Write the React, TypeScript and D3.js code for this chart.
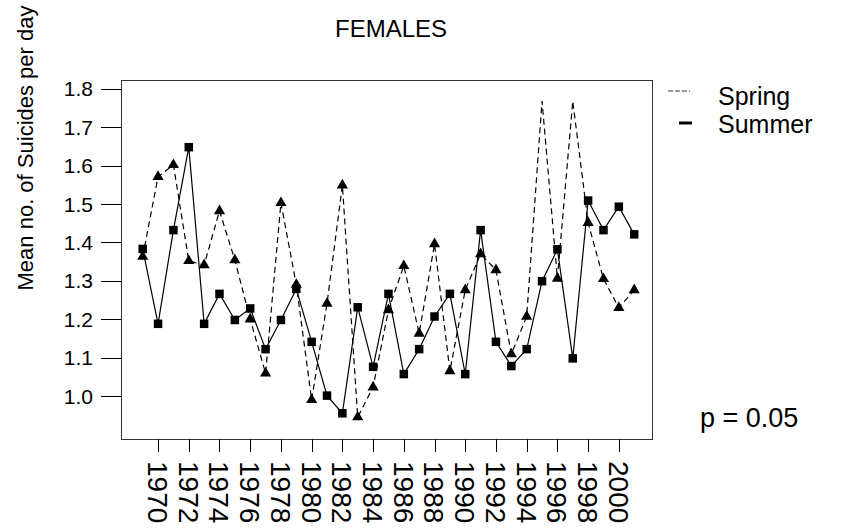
import React from "react";
import * as d3 from "d3";

const years: number[] = d3.range(1969, 2002);
const spring: number[] = [
  1.363, 1.571, 1.602, 1.352, 1.341, 1.482, 1.354, 1.2, 1.059, 1.503, 1.29,
  0.99, 1.241, 1.549, 0.945, 1.023, 1.224, 1.339, 1.163, 1.396, 1.065, 1.276,
  1.37, 1.328, 1.109, 1.207, 1.768, 1.306, 1.768, 1.451, 1.305, 1.23, 1.276,
];
const summer: number[] = [
  1.383, 1.188, 1.432, 1.648, 1.188, 1.266, 1.198, 1.228, 1.122, 1.198, 1.279,
  1.141, 1.001, 0.955, 1.231, 1.076, 1.266, 1.057, 1.122, 1.207, 1.266, 1.057,
  1.432, 1.141, 1.078, 1.122, 1.299, 1.382, 1.098, 1.509, 1.432, 1.493, 1.421,
];
// spring years drawn without a marker in the original
const springNoMarker: number[] = [1995, 1997];
const yTicks: number[] = [1.0, 1.1, 1.2, 1.3, 1.4, 1.5, 1.6, 1.7, 1.8];
const xTicks: number[] = d3.range(1970, 2001, 2);
const legendLabels: string[] = ["Spring", "Summer"];

const FONT = "'Liberation Sans', Arial, Helvetica, sans-serif";

export default function App() {
  const W = 851, H = 529;
  const box = { left: 121, right: 652, top: 80, bottom: 439 };
  const x = d3.scaleLinear().domain([1969, 2001]).range([142.7, 634.2]);
  const y = d3.scaleLinear().domain([1.0, 1.8]).range([396, 88.8]);

  const line = d3
    .line<number>()
    .x((_, i) => x(years[i]))
    .y((d) => y(d));

  const tri = d3.symbol(d3.symbolTriangle, 54)();
  const sq = 8.5;

  return (
    <svg
      width={W}
      height={H}
      style={{ position: "absolute", left: 0, top: 0, background: "#fff" }}
      fontFamily={FONT}
    >
      <rect width={W} height={H} fill="#fff" />
      <text x={391} y={37} fontSize={24} textAnchor="middle" fill="#000">
        FEMALES
      </text>
      <text
        transform={`translate(33,148) rotate(-90)`}
        fontSize={22}
        textAnchor="middle"
        fill="#000"
      >
        Mean no. of Suicides per day
      </text>

      {/* box */}
      <rect
        x={box.left + 0.5}
        y={box.top + 0.5}
        width={box.right - box.left}
        height={box.bottom - box.top}
        fill="none"
        stroke="#333"
        strokeWidth={1}
      />

      {/* y axis */}
      {yTicks.map((t) => (
        <g key={t}>
          <line
            x1={101}
            x2={box.left}
            y1={Math.round(y(t)) + 0.5}
            y2={Math.round(y(t)) + 0.5}
            stroke="#000"
          />
          <text
            x={93}
            y={y(t)}
            dy="0.36em"
            fontSize={21}
            textAnchor="end"
            fill="#000"
          >
            {t.toFixed(1)}
          </text>
        </g>
      ))}

      {/* x axis */}
      {xTicks.map((t) => (
        <g key={t}>
          <line
            x1={Math.round(x(t)) + 0.5}
            x2={Math.round(x(t)) + 0.5}
            y1={box.bottom}
            y2={452}
            stroke="#000"
          />
          <text
            transform={`translate(${x(t)},461) rotate(90)`}
            dy="0.36em"
            fontSize={28}
            textAnchor="start"
            fill="#000"
          >
            {t}
          </text>
        </g>
      ))}

      {/* series */}
      <path
        d={line(spring) || ""}
        fill="none"
        stroke="#000"
        strokeWidth={1.2}
        strokeDasharray="6,4"
      />
      <path d={line(summer) || ""} fill="none" stroke="#000" strokeWidth={1.2} />
      {spring.map((v, i) =>
        springNoMarker.includes(years[i]) ? null : (
          <path
            key={"s" + i}
            d={tri}
            transform={`translate(${x(years[i])},${y(v)})`}
            fill="#000"
          />
        )
      )}
      {summer.map((v, i) => (
        <rect
          key={"u" + i}
          x={x(years[i]) - sq / 2}
          y={y(v) - sq / 2}
          width={sq}
          height={sq}
          fill="#000"
        />
      ))}

      {/* legend */}
      {legendLabels.map((lab, i) => (
        <g key={lab}>
          <line
            x1={i === 0 ? 668 : 679}
            x2={i === 0 ? 690 : 692}
            y1={91 + i * 32}
            y2={91 + i * 32}
            stroke="#000"
            strokeWidth={i === 0 ? 0.8 : 3}
            strokeDasharray={i === 0 ? "5,2" : undefined}
          />
          <text x={718} y={105 + i * 28} fontSize={25} fill="#000">
            {lab}
          </text>
        </g>
      ))}

      <text x={700} y={427} fontSize={27} fill="#000">
        p = 0.05
      </text>
    </svg>
  );
}
